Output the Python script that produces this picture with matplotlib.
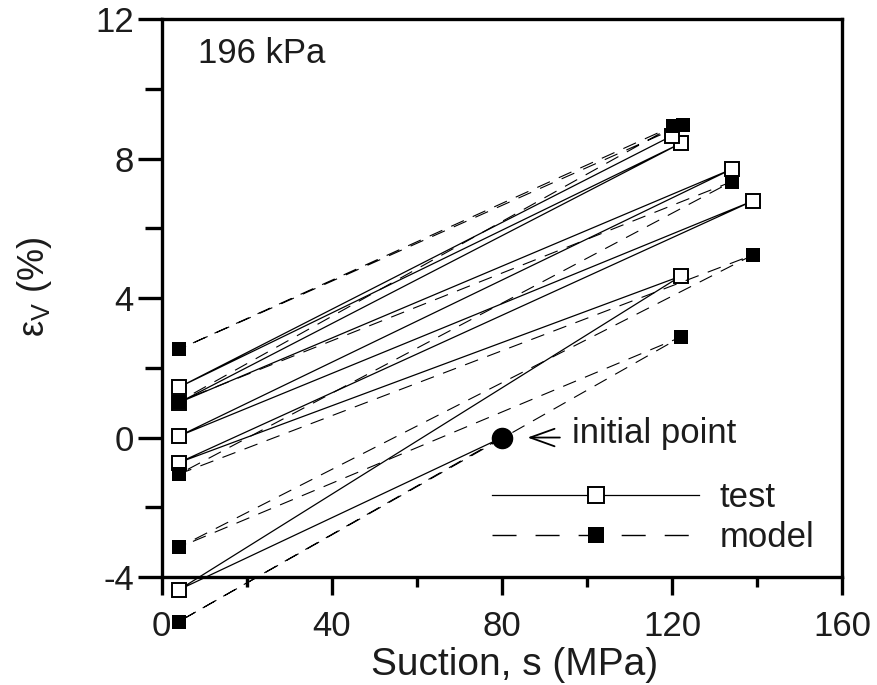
import matplotlib
matplotlib.use("Agg")
import matplotlib.pyplot as plt
from matplotlib.lines import Line2D

# ---------------- data ----------------
test_s = [80, 4, 122, 4, 139, 4, 134, 4, 122, 4, 120]
test_ev = [0, -4.37, 4.63, -0.72, 6.79, 0.04, 7.70, 1.0, 8.44, 1.44, 8.66]

model_s = [80, 4, 122, 4, 139, 4, 134, 4, 120.3, 4, 122.5]
model_ev = [0, -5.28, 2.88, -3.15, 5.24, -1.05, 7.34, 1.03, 8.94, 2.53, 8.97]

initial_s = [80]
initial_ev = [0]

x_ticks = [0, 40, 80, 120, 160]
x_minor = [20, 60, 100, 140]
y_ticks = [-4, 0, 4, 8, 12]
y_minor = [-2, 2, 6, 10]

# ---------------- style ----------------
plt.rcParams['font.family'] = ['Liberation Sans', 'DejaVu Sans']
plt.rcParams['mathtext.fontset'] = 'custom'
plt.rcParams['mathtext.rm'] = 'Liberation Sans'
plt.rcParams['mathtext.it'] = 'Liberation Sans:italic'
plt.rcParams['lines.scale_dashes'] = False
txt_color = '#1c1c1c'
FS = 25

fig = plt.figure(figsize=(8.78, 6.85), dpi=100)
ax = fig.add_axes([0.1842, 0.1577, 0.7752, 0.8142])

dash = (10, 7)
# test: solid lines with open squares
ax.plot(test_s, test_ev, color='k', lw=0.9, zorder=3, clip_on=False)
ax.plot(test_s[1:], test_ev[1:], ls='none', marker='s', ms=9.8, mfc='white',
        mec='k', mew=1.4, zorder=4, clip_on=False)
# model: dashed lines with filled squares
ax.plot(model_s, model_ev, color='k', lw=0.8, dashes=dash, zorder=5, clip_on=False)
ax.plot(model_s[1:], model_ev[1:], ls='none', marker='s', ms=10.5, mfc='k',
        mec='k', mew=0, zorder=6, clip_on=False)
# initial point
ax.plot(initial_s, initial_ev, ls='none', marker='o', ms=14.5, color='k', zorder=7,
        clip_on=False)

ax.annotate('', xy=(86.0, 0.0), xytext=(93.6, 0.0),
            arrowprops=dict(arrowstyle='->, head_length=1.25, head_width=0.45',
                            lw=1.3, color='k', mutation_scale=14,
                            shrinkA=0, shrinkB=0))
ax.text(96.5, 0.12, 'initial point', fontsize=FS, color=txt_color,
        ha='left', va='center')

ax.text(0.0533, 0.9217, '196 kPa', transform=ax.transAxes, fontsize=FS,
        color=txt_color, ha='left', va='baseline')

# axes
ax.set_xlim(0, 160)
ax.set_ylim(-4, 12)
ax.set_xticks(x_ticks)
ax.set_xticks(x_minor, minor=True)
ax.set_yticks(y_ticks)
ax.set_yticks(y_minor, minor=True)
ax.set_xticklabels([str(v) for v in x_ticks])
ax.set_yticklabels([str(v) for v in y_ticks])
for sp in ax.spines.values():
    sp.set_linewidth(2.4)
ax.tick_params(axis='x', which='major', direction='out', length=13, width=2.4,
               labelsize=FS, pad=11, colors='k', labelcolor=txt_color)
ax.tick_params(axis='x', which='minor', direction='out', length=7.5, width=2.4)
ax.tick_params(axis='y', which='major', direction='out', length=17, width=2.4,
               labelsize=FS, pad=3, colors='k', labelcolor=txt_color)
ax.tick_params(axis='y', which='minor', direction='out', length=12, width=2.4)

ax.set_xlabel('Suction, s (MPa)', fontsize=28, color=txt_color)
ax.xaxis.label.set_va('bottom')
ax.xaxis.set_label_coords(0.519, -0.1895)
ax.set_ylabel(r'$\mathregular{\varepsilon_V}$ (%)', fontsize=26, color=txt_color)
ax.yaxis.set_label_coords(-0.158, 0.52)

# legend
h_test = Line2D([], [], color='k', lw=0.9, marker='s', ms=11.5, mfc='white',
                mec='k', mew=1.4)
h_model = Line2D([], [], color='k', lw=1.0, dashes=(17.3, 13.7), marker='s',
                 ms=12, mfc='k', mec='k', mew=0)
leg = ax.legend([h_test, h_model], ['test', 'model'], loc='center left',
                bbox_to_anchor=(0.4853, 0.1067), frameon=False, fontsize=FS,
                handlelength=5.96, handletextpad=0.6, labelspacing=0.2,
                borderpad=0, borderaxespad=0)
for t in leg.get_texts():
    t.set_color(txt_color)

fig.savefig('out.png', dpi=100)
